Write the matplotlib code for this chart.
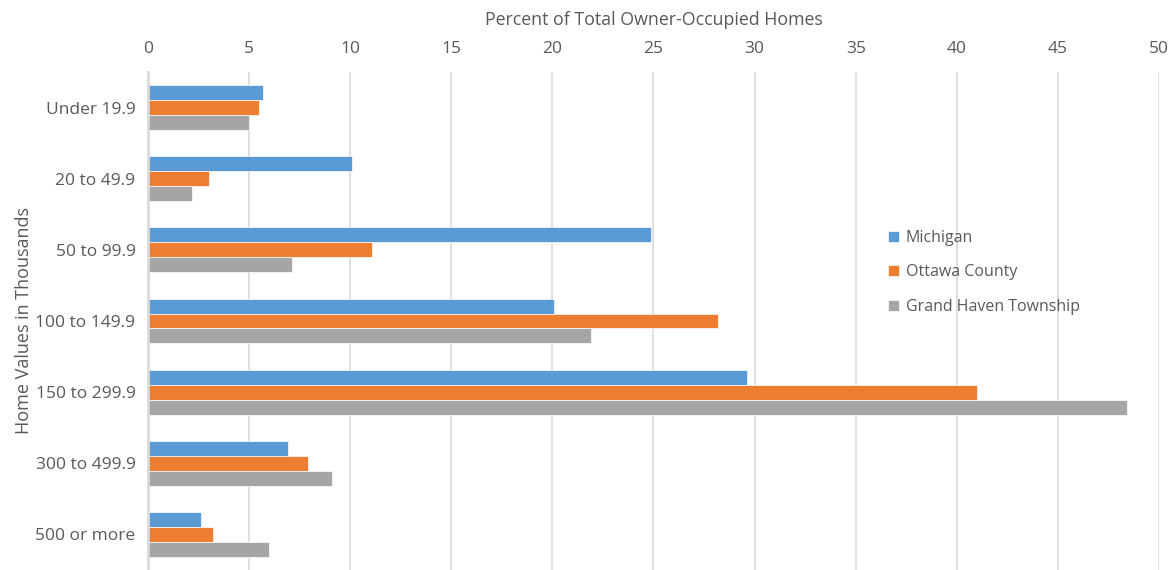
import numpy as np
import matplotlib.pyplot as plt
plt.rcParams['font.family'] = ['Open Sans', 'DejaVu Sans']
plt.rcParams['axes.facecolor'] = 'w'
plt.rcParams['savefig.facecolor'] = 'w'

categories = ['Under 19.9', '20 to 49.9', '50 to 99.9', '100 to 149.9',
              '150 to 299.9', '300 to 499.9', '500 or more']
michigan = [5.7, 10.1, 24.9, 20.1, 29.6, 6.9, 2.6]
ottawa = [5.5, 3.0, 11.1, 28.2, 41.0, 7.9, 3.2]
grand_haven = [5.0, 2.2, 7.1, 21.9, 48.4, 9.1, 6.0]
series = [('Michigan', michigan, '#5B9BD5'),
          ('Ottawa County', ottawa, '#ED7D31'),
          ('Grand Haven Township', grand_haven, '#A5A5A5')]

txt = '#595959'
fig = plt.figure(figsize=(11.68, 5.70), dpi=100)
ax = fig.add_axes([0.1267, 0.0, 0.8656, 0.8737])

y = np.arange(len(categories))
h = 0.21
for i, (name, vals, col) in enumerate(series):
    ax.barh(y + (i - 1) * h, vals, height=h, color=col, label=name,
            edgecolor='white', linewidth=0.5, zorder=3)

ax.set_xlim(0, 50)
ax.set_ylim(6.5, -0.5)
ax.set_xticks(np.arange(0, 51, 5))
ax.set_yticks(y)
ax.set_yticklabels(categories)
ax.xaxis.tick_top()
ax.xaxis.set_label_position('top')
ax.tick_params(length=0, labelsize=12.5, colors=txt)
ax.tick_params(axis='x', pad=11)
ax.tick_params(axis='y', pad=9)
ax.grid(axis='x', color='#D9D9D9', linewidth=1.2, zorder=0)
for s in ['top', 'right', 'bottom']:
    ax.spines[s].set_visible(False)
ax.spines['left'].set_color('#D9D9D9')
ax.spines['left'].set_linewidth(2)
ax.spines['left'].set_zorder(4)

ax.set_xlabel('Percent of Total Owner-Occupied Homes', fontsize=12.8, color=txt, labelpad=11)
ax.set_ylabel('Home Values in Thousands', fontsize=13, color=txt, labelpad=2)

leg = ax.legend(loc='upper left', bbox_to_anchor=(0.718, 0.712), frameon=False,
                fontsize=11.5, handlelength=0.7, handleheight=0.7,
                handletextpad=0.4, labelspacing=1.16)
for t in leg.get_texts():
    t.set_color(txt)

fig.savefig('out.png', dpi=100)
